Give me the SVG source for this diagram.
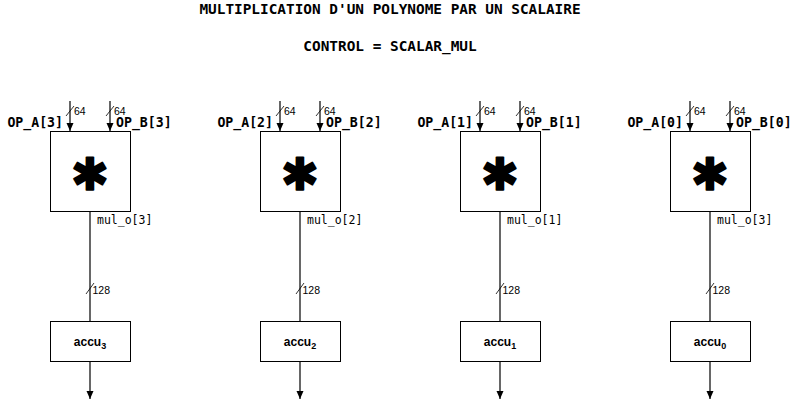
<svg xmlns="http://www.w3.org/2000/svg" width="802" height="410" viewBox="0 0 802 410">
<defs>
<marker id="ah" markerWidth="8" markerHeight="8" viewBox="0 0 8 8" refX="8" refY="4" orient="auto" markerUnits="userSpaceOnUse">
<path d="M0,0.5 L8,4 L0,7.5 Z" fill="#000"/>
</marker>
<style>
.box{fill:#fff;stroke:#000;stroke-width:1}
.wire{fill:none;stroke:#000;stroke-width:1.2}
.sl{fill:none;stroke:#000;stroke-width:0.8}
.title{font-family:"DejaVu Sans Mono",monospace;font-weight:bold;font-size:14.4px;text-anchor:middle}
.op{font-family:"DejaVu Sans Mono",monospace;font-weight:bold;font-size:13.2px}
.mul{font-family:"DejaVu Sans Mono",monospace;font-size:11.5px}
.w{font-family:"Liberation Sans",Arial,sans-serif;font-size:10.5px}
.acc{font-family:"Liberation Sans",Arial,sans-serif;font-weight:bold;font-size:12px;text-anchor:middle}
.star{font-family:"DejaVu Sans",sans-serif;font-size:45px;text-anchor:middle;stroke:#000;stroke-width:1.6;stroke-linejoin:round}
</style>
</defs>
<rect width="802" height="410" fill="#fff"/>
<text class="title" x="390" y="14">MULTIPLICATION D'UN POLYNOME PAR UN SCALAIRE</text>
<text class="title" x="390" y="51">CONTROL = SCALAR_MUL</text>

<g id="connectors">
<line class="wire" x1="70" y1="101" x2="70" y2="131" marker-end="url(#ah)"/>
<line class="wire" x1="110" y1="101" x2="110" y2="131" marker-end="url(#ah)"/>
<line class="wire" x1="90" y1="211" x2="90" y2="321"/>
<line class="wire" x1="90" y1="361" x2="90" y2="399" marker-end="url(#ah)"/>
<line class="wire" x1="280" y1="101" x2="280" y2="131" marker-end="url(#ah)"/>
<line class="wire" x1="320" y1="101" x2="320" y2="131" marker-end="url(#ah)"/>
<line class="wire" x1="300" y1="211" x2="300" y2="321"/>
<line class="wire" x1="300" y1="361" x2="300" y2="399" marker-end="url(#ah)"/>
<line class="wire" x1="480" y1="101" x2="480" y2="131" marker-end="url(#ah)"/>
<line class="wire" x1="520" y1="101" x2="520" y2="131" marker-end="url(#ah)"/>
<line class="wire" x1="500" y1="211" x2="500" y2="321"/>
<line class="wire" x1="500" y1="361" x2="500" y2="399" marker-end="url(#ah)"/>
<line class="wire" x1="690" y1="101" x2="690" y2="131" marker-end="url(#ah)"/>
<line class="wire" x1="730" y1="101" x2="730" y2="131" marker-end="url(#ah)"/>
<line class="wire" x1="710" y1="211" x2="710" y2="321"/>
<line class="wire" x1="710" y1="361" x2="710" y2="399" marker-end="url(#ah)"/>
<path class="sl" d="M66,116 L74,106 M106,116 L114,106 M86,294 L94,283 M276,116 L284,106 M316,116 L324,106 M296,294 L304,283 M476,116 L484,106 M516,116 L524,106 M496,294 L504,283 M686,116 L694,106 M726,116 L734,106 M706,294 L714,283"/>
<text class="w" x="74" y="115">64</text><text class="w" x="114" y="115">64</text><text class="w" x="92.5" y="294">128</text>
<text class="w" x="284" y="115">64</text><text class="w" x="324" y="115">64</text><text class="w" x="302.5" y="294">128</text>
<text class="w" x="484" y="115">64</text><text class="w" x="524" y="115">64</text><text class="w" x="502.5" y="294">128</text>
<text class="w" x="694" y="115">64</text><text class="w" x="734" y="115">64</text><text class="w" x="712.5" y="294">128</text>
<text class="mul" x="97" y="224">mul_o[3]</text>
<text class="mul" x="307" y="224">mul_o[2]</text>
<text class="mul" x="507" y="224">mul_o[1]</text>
<text class="mul" x="717" y="224">mul_o[3]</text>
</g>

<g id="mul3">
<text class="op" x="63" y="127" text-anchor="end">OP_A[3]</text>
<text class="op" x="116" y="127">OP_B[3]</text>
<rect class="box" x="50.5" y="131.5" width="80" height="80"/>
<text class="star" x="90" y="190">✱</text>
</g>
<g id="mul2">
<text class="op" x="273" y="127" text-anchor="end">OP_A[2]</text>
<text class="op" x="326" y="127">OP_B[2]</text>
<rect class="box" x="260.5" y="131.5" width="80" height="80"/>
<text class="star" x="300" y="190">✱</text>
</g>
<g id="mul1">
<text class="op" x="473" y="127" text-anchor="end">OP_A[1]</text>
<text class="op" x="526" y="127">OP_B[1]</text>
<rect class="box" x="460.5" y="131.5" width="80" height="80"/>
<text class="star" x="500" y="190">✱</text>
</g>
<g id="mul0">
<text class="op" x="683" y="127" text-anchor="end">OP_A[0]</text>
<text class="op" x="736" y="127">OP_B[0]</text>
<rect class="box" x="670.5" y="131.5" width="80" height="80"/>
<text class="star" x="710" y="190">✱</text>
</g>

<g id="accu3"><rect class="box" x="50.5" y="321.5" width="80" height="40"/><text class="acc" x="90" y="346">accu<tspan font-size="9" dy="3">3</tspan></text></g>
<g id="accu2"><rect class="box" x="260.5" y="321.5" width="80" height="40"/><text class="acc" x="300" y="346">accu<tspan font-size="9" dy="3">2</tspan></text></g>
<g id="accu1"><rect class="box" x="460.5" y="321.5" width="80" height="40"/><text class="acc" x="500" y="346">accu<tspan font-size="9" dy="3">1</tspan></text></g>
<g id="accu0"><rect class="box" x="670.5" y="321.5" width="80" height="40"/><text class="acc" x="710" y="346">accu<tspan font-size="9" dy="3">0</tspan></text></g>
</svg>
